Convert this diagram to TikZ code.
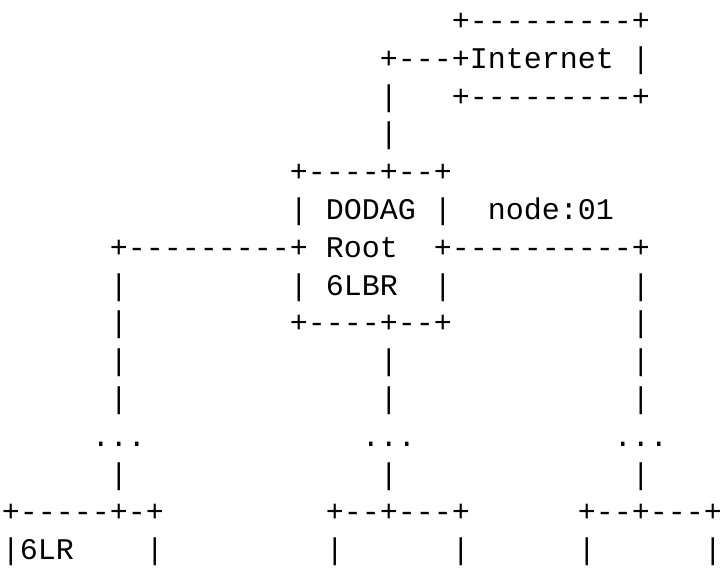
\documentclass[tikz,border=0pt]{standalone}
\usepackage{fontspec}
\setmonofont{Liberation Mono}
\usepackage{tikz}

\begin{document}
\begin{tikzpicture}[x=9pt, y=-18.9pt,
		ascii/.style={anchor=base west, inner sep=0pt, font=\ttfamily\fontsize{15pt}{18.9pt}\selectfont}]
			\useasboundingbox (-0.583,-0.556) rectangle (39.583,14.47);
			% one entry per run of characters: column/row/text
			\foreach \c/\r/\s in {25/0/+---------+,
					21/1/+---+Internet, 35/1/|,
					21/2/|, 25/2/+---------+,
					21/3/|,
					16/4/+----+--+,
					16/5/|, 18/5/DODAG, 24/5/|, 27/5/node:01,
					6/6/+---------+, 18/6/Root, 24/6/+----------+,
					6/7/|, 16/7/|, 18/7/6LBR, 24/7/|, 35/7/|,
					6/8/|, 16/8/+----+--+, 35/8/|,
					0/13/+-----+-+, 18/13/+--+---+, 32/13/+--+---+,
					0/14/|6LR, 8/14/|, 18/14/|, 25/14/|, 32/14/|, 39/14/|}
				\node[ascii] (t\r-\c) at ({\c-0.5},{\r+0.25}) {\s};
			
			% vertical links
			\foreach \r in {9, 10, 12}
				\foreach \c in {6, 21, 35}
					\node[ascii] (t\r-\c) at ({\c-0.5},{\r+0.25}) {|};
			% elided hops
			\foreach \c in {5, 20, 34}
				\node[ascii] (t11-\c) at ({\c-0.5},11.25) {...};
		\end{tikzpicture}
\end{document}
